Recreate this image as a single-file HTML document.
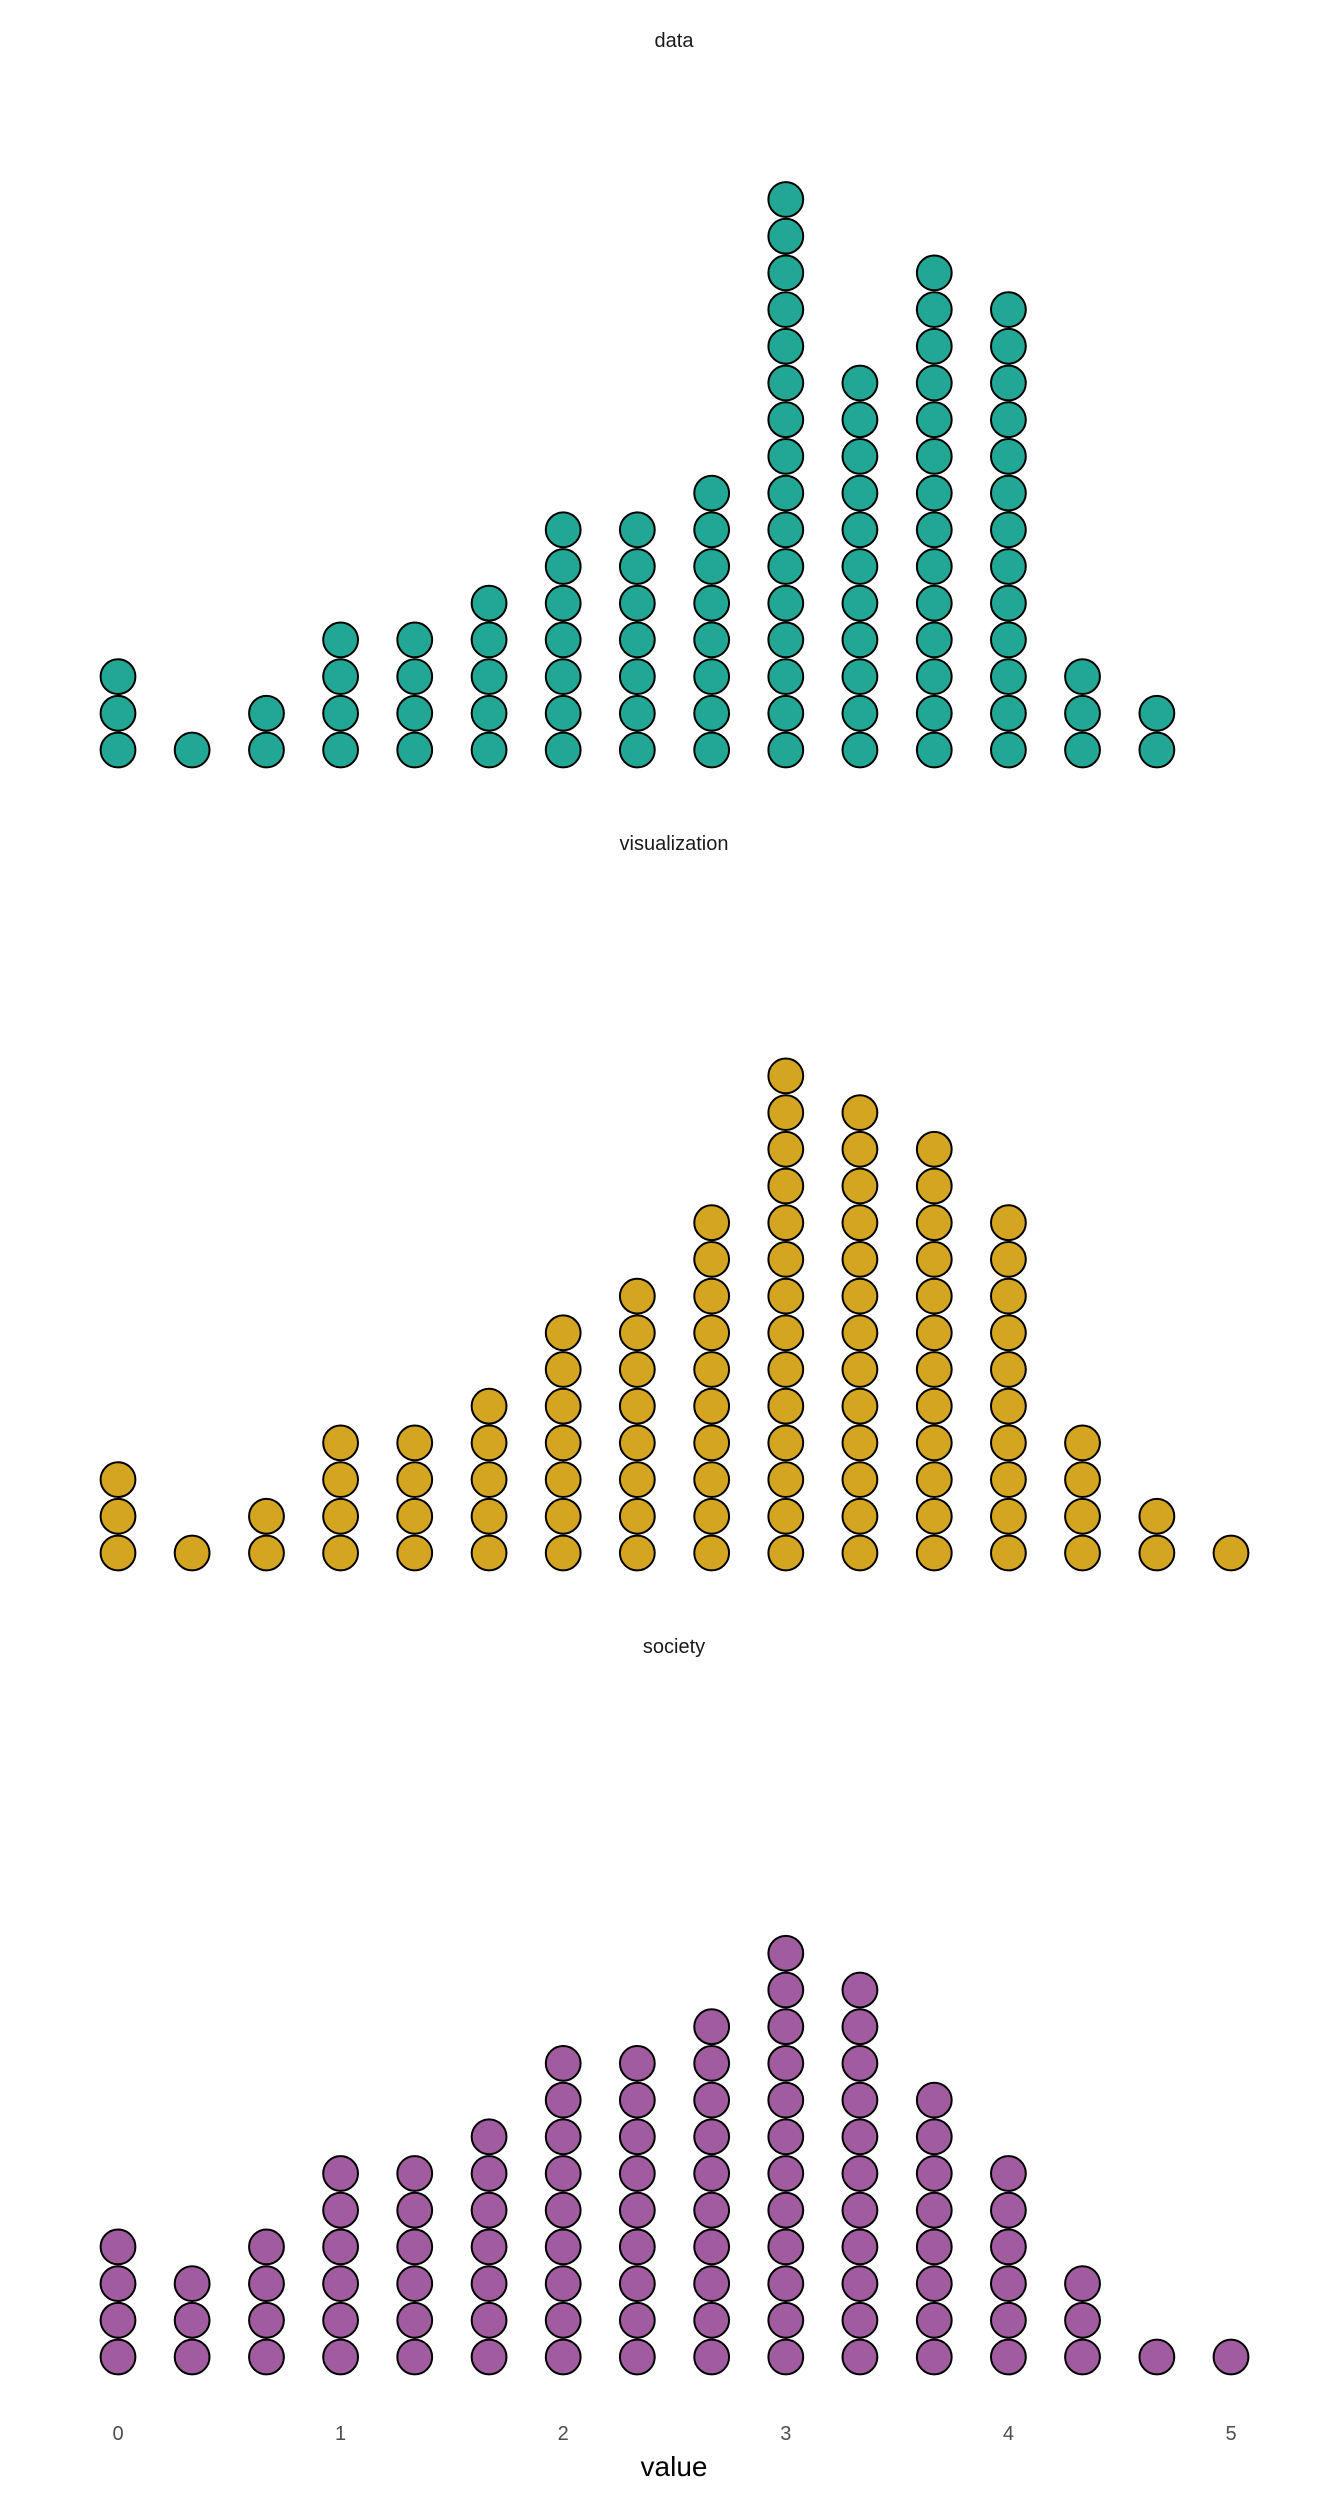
<!DOCTYPE html>
<html><head><meta charset="utf-8"><style>
html,body{margin:0;padding:0;background:#fff;}
svg{display:block;font-family:"Liberation Sans",sans-serif;}
</style></head><body>
<svg id="chart" width="1344" height="2496" viewBox="0 0 1344 2496">
<g id="panels"></g>
<g id="axis"></g>
<text x="674" y="2476" text-anchor="middle" font-size="28" fill="#000">value</text>
</svg>
<script>
const panelNames = ["data", "visualization", "society"];
const panelColors = ["#22a795", "#d4a520", "#a05c9e"];
const binValues = [0, 0.333, 0.667, 1, 1.333, 1.667, 2, 2.333, 2.667, 3, 3.333, 3.667, 4, 4.333, 4.667, 5];
const countsData = [3,1,2,4,4,5,7,7,8,16,11,14,13,3,2,0];
const countsVis = [3,1,2,4,4,5,7,8,10,14,13,12,10,4,2,1];
const countsSociety = [4,3,4,6,6,7,9,9,10,12,11,8,6,3,1,1];
const tickValues = [0,1,2,3,4,5];
const tickLabels = ["0","1","2","3","4","5"];

const allCounts = [countsData, countsVis, countsSociety];
const NS = "http://www.w3.org/2000/svg";
const xScale = v => 118 + v * 222.6;
const panelBottom = [750, 1553, 2357];
const titleY = [47, 850, 1653];
const step = 36.7;
const r = 17.4;
const yScale = (p, k) => panelBottom[p] - k * step;

const panels = document.getElementById("panels");
panelNames.forEach((name, p) => {
  const g = document.createElementNS(NS, "g");
  
  
  const t = document.createElementNS(NS, "text");
  t.setAttribute("x", 674); t.setAttribute("y", titleY[p]);
  t.setAttribute("text-anchor", "middle"); t.setAttribute("font-size", "20"); t.setAttribute("fill", "#1a1a1a");
  t.textContent = name;
  
  
  g.appendChild(t);
  allCounts[p].forEach((c, i) => {
    for (let k = 0; k < c; k++) {
      const ci = document.createElementNS(NS, "circle");
      ci.setAttribute("cx", xScale(binValues[i]));
      ci.setAttribute("cy", yScale(p, k));
      ci.setAttribute("r", r);
      ci.setAttribute("fill", panelColors[p]);
      ci.setAttribute("stroke", "#000");
      ci.setAttribute("stroke-width", "2");
      
      
      g.appendChild(ci);
    }
  });
  panels.appendChild(g);
});

const axis = document.getElementById("axis");
tickValues.forEach((v, i) => {
  const t = document.createElementNS(NS, "text");
  t.setAttribute("x", xScale(v)); t.setAttribute("y", 2440);
  t.setAttribute("text-anchor", "middle"); t.setAttribute("font-size", "20"); t.setAttribute("fill", "#4d4d4d");
  t.textContent = tickLabels[i];
  
  
  axis.appendChild(t);
});
</script>
</body></html>
